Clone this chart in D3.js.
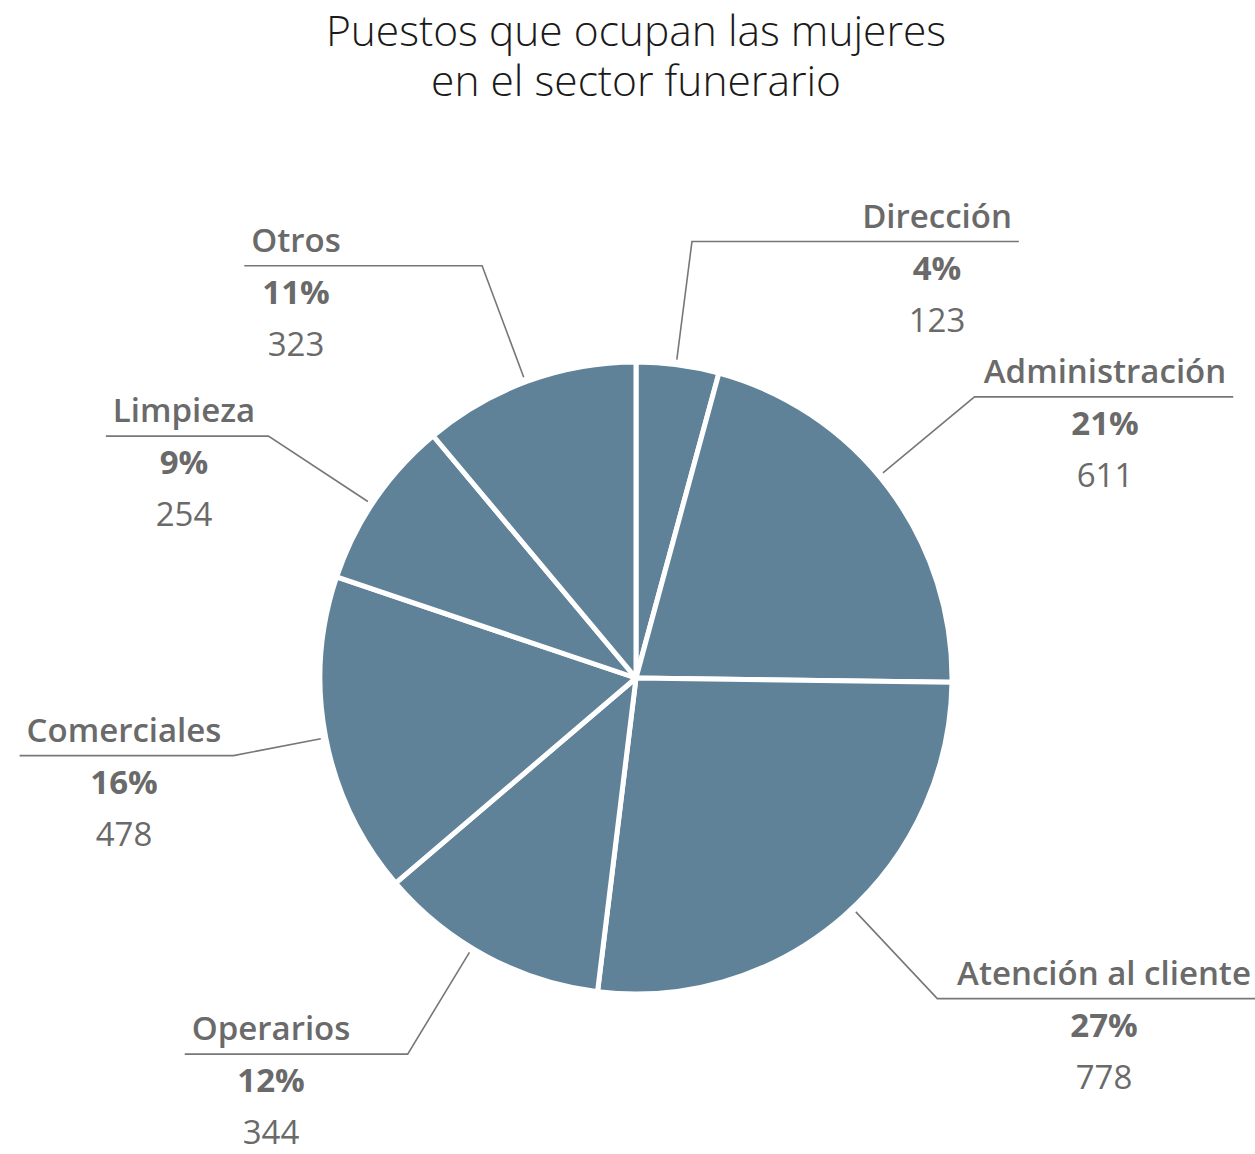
<!DOCTYPE html>
<html>
<head>
<meta charset="utf-8">
<script src="https://d3js.org/d3.v7.min.js"></script>
<title>Puestos que ocupan las mujeres</title>
<style>
  body { margin: 0; background: #fff; }
  svg text { font-family: "Open Sans", sans-serif; }
</style>
</head>
<body>
<script>
// data
var categories = ["Dirección", "Administración", "Atención al cliente", "Operarios", "Comerciales", "Limpieza", "Otros"];
var values = [123, 611, 778, 344, 478, 254, 323];
var titleLines = ["Puestos que ocupan las mujeres", "en el sector funerario"];

// label layout (angle nudge in degrees, elbow radius, text centre x)
var labelNudge = [-0.3, -2.7, -2.1, 3.0, 0, -1, -0.5];
var elbowR = [440, 440, 440, 440, 410, 440, 440];
var labelX = [937, 1105, 1104, 271, 124, 184, 296];

var width = 1255, height = 1154,
    cx = 636, cy = 678, radius = 316;

var svg = d3.select("body").append("svg")
    .attr("width", width)
    .attr("height", height);

svg.selectAll("text.title")
    .data(titleLines)
  .enter().append("text")
    .attr("class", "title")
    .attr("x", cx)
    .attr("y", function(d, i) { return 46 + i * 50; })
    .attr("text-anchor", "middle")
    .attr("font-size", 42.5)
    .attr("font-weight", 300)
    .attr("fill", "#1a1a1a")
    .text(function(d) { return d; });

var total = d3.sum(values);
var rows = categories.map(function(c, i) { return {name: c, value: values[i], i: i}; });

var pie = d3.pie().sort(null).value(function(d) { return d.value; });
var arc = d3.arc().innerRadius(0).outerRadius(radius);
var arcs = pie(rows);

var g = svg.append("g").attr("transform", "translate(" + cx + "," + cy + ")");

g.selectAll("path")
    .data(arcs)
  .enter().append("path")
    .attr("d", arc)
    .attr("fill", "#5f8299")
    .attr("stroke", "#fff")
    .attr("stroke-width", 5)
    .attr("stroke-linejoin", "round");

var labels = g.selectAll("g.label")
    .data(arcs)
  .enter().append("g")
    .attr("class", "label");

labels.each(function(d) {
  var i = d.data.i;
  var a = (d.startAngle + d.endAngle) / 2 + labelNudge[i] * Math.PI / 180;
  var x0 = 321 * Math.sin(a), y0 = -321 * Math.cos(a);
  var x1 = elbowR[i] * Math.sin(a), y1 = -elbowR[i] * Math.cos(a);
  var tx = labelX[i] - cx;
  var sel = d3.select(this);

  var name = sel.append("text")
      .attr("x", tx)
      .attr("y", y1 - 14)
      .attr("text-anchor", "middle")
      .attr("font-size", 33)
      .attr("font-weight", 600)
      .attr("fill", "#6a6a6a")
      .text(d.data.name);
  var w = name.node().getComputedTextLength();
  var xEnd = x1 > 0 ? tx + w / 2 + 7 : tx - w / 2 - 7;

  sel.append("path")
      .attr("d", "M" + x0 + "," + y0 + "L" + x1 + "," + y1 + "L" + xEnd + "," + y1)
      .attr("fill", "none")
      .attr("stroke", "#777")
      .attr("stroke-width", 1.6);

  sel.append("text")
      .attr("x", tx)
      .attr("y", y1 + 38)
      .attr("text-anchor", "middle")
      .attr("font-size", 33)
      .attr("font-weight", 700)
      .attr("fill", "#6a6a6a")
      .text(Math.round(d.data.value / total * 100) + "%");

  sel.append("text")
      .attr("x", tx)
      .attr("y", y1 + 90)
      .attr("text-anchor", "middle")
      .attr("font-size", 33)
      .attr("font-weight", 400)
      .attr("fill", "#6a6a6a")
      .text(d.data.value);
});
</script>
</body>
</html>
